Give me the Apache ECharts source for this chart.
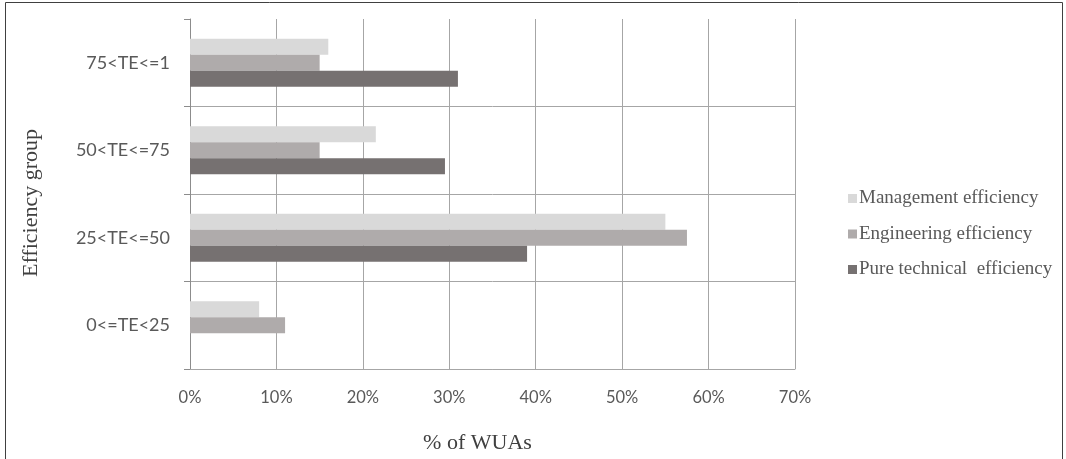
<!DOCTYPE html>
<html>
<head>
<meta charset="utf-8">
<script src="https://cdn.jsdelivr.net/npm/echarts@6/dist/echarts.min.js"></script>
<style>
html,body{margin:0;padding:0;background:#fff;}
#chart{width:1066px;height:459px;}
</style>
</head>
<body>
<div id="chart"></div>
<script>
const categories = ['0<=TE<25', '25<TE<=50', '50<TE<=75', '75<TE<=1'];
const management = [8, 55, 21.5, 16];
const engineering = [11, 57.5, 15, 15];
const pureTechnical = [0, 39, 29.5, 31];
const xTicks = [0, 10, 20, 30, 40, 50, 60, 70];

const chart = echarts.init(document.getElementById('chart'));
const gridColor = '#a6a6a6';
chart.setOption({
  animation: false,
  backgroundColor: '#fff',
  graphic: [{
    type: 'rect',
    shape: {x: 5.5, y: 2.5, width: 1057, height: 480},
    style: {fill: 'none', stroke: '#404040', lineWidth: 1},
    silent: true
  }],
  grid: {left: 190, top: 19, right: 271, bottom: 88, containLabel: false},
  legend: {
    orient: 'vertical',
    left: 843,
    top: 184,
    itemWidth: 9,
    itemHeight: 9,
    itemGap: 16.5,
    icon: 'rect',
    data: ['Management efficiency', 'Engineering efficiency', 'Pure technical  efficiency'],
    textStyle: {fontFamily: 'Liberation Serif', fontSize: 19, color: '#595959', padding: [0, 0, 0, -3]}
  },
  xAxis: {
    type: 'value',
    min: xTicks[0],
    max: xTicks[xTicks.length - 1],
    interval: 10,
    name: '% of WUAs',
    nameLocation: 'middle',
    nameGap: 63,
    nameTextStyle: {fontFamily: 'Liberation Serif', fontSize: 22, color: '#404040', padding: [0, 30, 0, 0]},
    axisLine: {show: true, lineStyle: {color: gridColor}},
    axisTick: {show: false},
    axisLabel: {formatter: '{value}%', fontFamily: 'Lato', fontSize: 16.5, color: '#595959', margin: 20},
    splitLine: {show: true, lineStyle: {color: gridColor, width: 1}}
  },
  yAxis: {
    type: 'category',
    data: categories,
    name: 'Efficiency group',
    nameLocation: 'middle',
    nameGap: 148,
    nameTextStyle: {fontFamily: 'Liberation Serif', fontSize: 22, color: '#404040', padding: [0, 18, 0, 0]},
    axisLine: {show: true, lineStyle: {color: '#8c8c8c'}},
    axisTick: {show: true, length: 6, lineStyle: {color: '#8c8c8c'}},
    axisLabel: {fontFamily: 'Lato', fontSize: 18, color: '#595959', margin: 20},
    splitLine: {show: true, showMaxLine: false, lineStyle: {color: gridColor, width: 1}}
  },
  series: [
    {name: 'Management efficiency', type: 'bar', data: management, barWidth: 16, barGap: '0%', itemStyle: {color: '#d9d9d9'}},
    {name: 'Engineering efficiency', type: 'bar', data: engineering, barWidth: 16, barGap: '0%', itemStyle: {color: '#afabab'}},
    {name: 'Pure technical  efficiency', type: 'bar', data: pureTechnical, barWidth: 16, barGap: '0%', itemStyle: {color: '#767171'}}
  ]
});
</script>
</body>
</html>
